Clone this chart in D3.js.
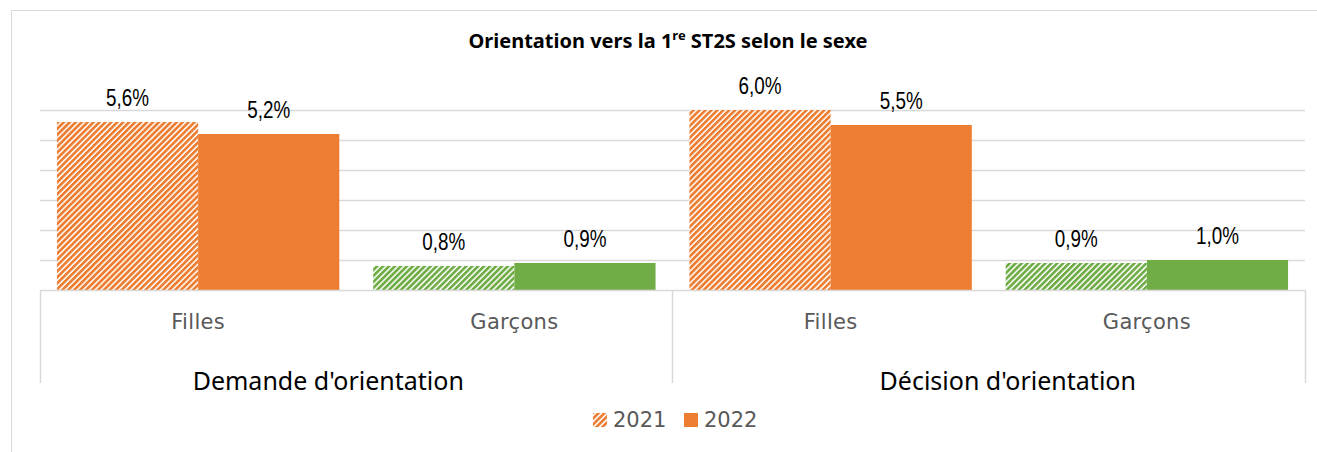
<!DOCTYPE html>
<html>
<head>
<meta charset="utf-8">
<script src="https://cdn.jsdelivr.net/npm/d3@7"></script>
<style>
  html, body { margin: 0; padding: 0; background: #fff; }
  svg { display: block; }
</style>
</head>
<body>
<svg id="chart" width="1317" height="452"></svg>
<script>
// ---- data ----
const groups = ["Demande d'orientation", "Décision d'orientation"];
const sexes = ["Filles", "Garçons"];
const years = ["2021", "2022"];
const values2021 = [5.6, 0.8, 6.0, 0.9];   // Demande Filles, Demande Garçons, Décision Filles, Décision Garçons
const values2022 = [5.2, 0.9, 5.5, 1.0];
const yTicks = [1, 2, 3, 4, 5, 6];
const title = "Orientation vers la 1";
const titleSup = "re";
const titleEnd = " ST2S selon le sexe";

// ---- styles ----
const colOrange = "#ED7D31", colGreen = "#70AD47";
const gridCol = "#D9D9D9";

const svg = d3.select("#chart");

// patterns
const defs = svg.append("defs");
function hatch(id, color) {
  const p = defs.append("pattern").attr("id", id)
    .attr("patternUnits", "userSpaceOnUse")
    .attr("width", 4.2).attr("height", 10)
    .attr("patternTransform", "rotate(45)");
  p.append("rect").attr("width", 4.2).attr("height", 10).attr("fill", "#fff");
  p.append("rect").attr("width", 2.7).attr("height", 10).attr("fill", color);
}
hatch("hOrange", colOrange);
hatch("hGreen", colGreen);

// outer frame (top + left)
svg.append("line").attr("x1", 11).attr("x2", 1317).attr("y1", 10.5).attr("y2", 10.5).attr("stroke", gridCol);
svg.append("line").attr("x1", 11.5).attr("x2", 11.5).attr("y1", 10).attr("y2", 452).attr("stroke", gridCol);

// scales
const cats = [];
groups.forEach((g, gi) => sexes.forEach((s, si) => cats.push({ key: gi + "-" + s, group: gi, sex: s })));
const x0 = d3.scaleBand().domain(cats.map(c => c.key)).range([40, 1305]).paddingInner(0).paddingOuter(0);
const x1 = d3.scaleBand().domain(years).range([0, x0.bandwidth()]).paddingInner(0).paddingOuter(0.12);
const y = d3.scaleLinear().domain([0, 6]).range([290, 110]);

// gridlines
const grid = svg.append("g");
grid.selectAll("line").data(yTicks).join("line")
  .attr("x1", 40).attr("x2", 1305)
  .attr("y1", d => Math.round(y(d)) + 0.5).attr("y2", d => Math.round(y(d)) + 0.5)
  .attr("stroke", gridCol).attr("stroke-width", 1.3);

// bars
const rows = cats.map((c, i) => ({ ...c, v: [values2021[i], values2022[i]] }));
const fmt = v => d3.format(".1f")(v).replace(".", ",") + "%";
rows.forEach(r => {
  const isF = r.sex === "Filles";
  const solid = isF ? colOrange : colGreen;
  const pat = isF ? "url(#hOrange)" : "url(#hGreen)";
  years.forEach((yr, k) => {
    const bx = x0(r.key) + x1(yr);
    svg.append("rect")
      .attr("x", bx).attr("width", x1.bandwidth())
      .attr("y", y(r.v[k])).attr("height", y(0) - y(r.v[k]))
      .attr("fill", k === 0 ? pat : solid);
    svg.append("g")
      .attr("transform", `translate(${bx + x1.bandwidth() / 2},${y(r.v[k]) - 16}) scale(0.82,1)`)
      .append("text")
      .attr("text-anchor", "middle")
      .attr("font-family", "'Liberation Sans', Arial, sans-serif")
      .attr("font-size", 23).attr("fill", "#000")
      .text(fmt(r.v[k]));
  });
});

// category axis box
svg.append("line").attr("x1", 40).attr("x2", 1305).attr("y1", 290.5).attr("y2", 290.5).attr("stroke", gridCol).attr("stroke-width", 1.5);
[40, 672, 1305].forEach(xx => {
  svg.append("line").attr("x1", xx + 0.5).attr("x2", xx + 0.5).attr("y1", 290).attr("y2", 383)
    .attr("stroke", gridCol).attr("stroke-width", 1.5);
});

// category labels
svg.append("g").selectAll("text").data(cats).join("text")
  .attr("x", d => x0(d.key) + x0.bandwidth() / 2)
  .attr("y", 329)
  .attr("text-anchor", "middle")
  .attr("font-family", "'DejaVu Sans', sans-serif")
  .attr("font-size", 21).attr("fill", "#595959")
  .attr("letter-spacing", 0.3)
  .text(d => d.sex);

// group labels
const groupOffsets = [-28, 19];
svg.append("g").selectAll("text").data(groups).join("text")
  .attr("x", (d, i) => (x0(i + "-Filles") + x0(i + "-Garçons") + x0.bandwidth()) / 2 + groupOffsets[i])
  .attr("y", 390)
  .attr("text-anchor", "middle")
  .attr("font-family", "'Noto Sans', 'Open Sans', sans-serif")
  .attr("font-size", 25).attr("fill", "#000")
  .text(d => d);

// title
const t = svg.append("text").attr("x", 668).attr("y", 48).attr("text-anchor", "middle")
  .attr("font-family", "'Noto Sans', 'Open Sans', sans-serif")
  .attr("font-weight", "bold").attr("font-size", 20).attr("fill", "#000");
t.append("tspan").text(title);
t.append("tspan").attr("font-size", 13).attr("dy", -8).text(titleSup);
t.append("tspan").attr("dy", 8).text(titleEnd);

// legend
const leg = svg.append("g");
const legItems = [
  { label: years[0], fill: "url(#hOrange)", x: 593 },
  { label: years[1], fill: colOrange, x: 684 }
];
legItems.forEach(d => {
  leg.append("rect").attr("x", d.x).attr("y", 413).attr("width", 14).attr("height", 14).attr("fill", d.fill);
  leg.append("text").attr("x", d.x + 20).attr("y", 427)
    .attr("font-family", "'DejaVu Sans', sans-serif")
    .attr("font-size", 21).attr("fill", "#595959")
    .text(d.label);
});
</script>
</body>
</html>
